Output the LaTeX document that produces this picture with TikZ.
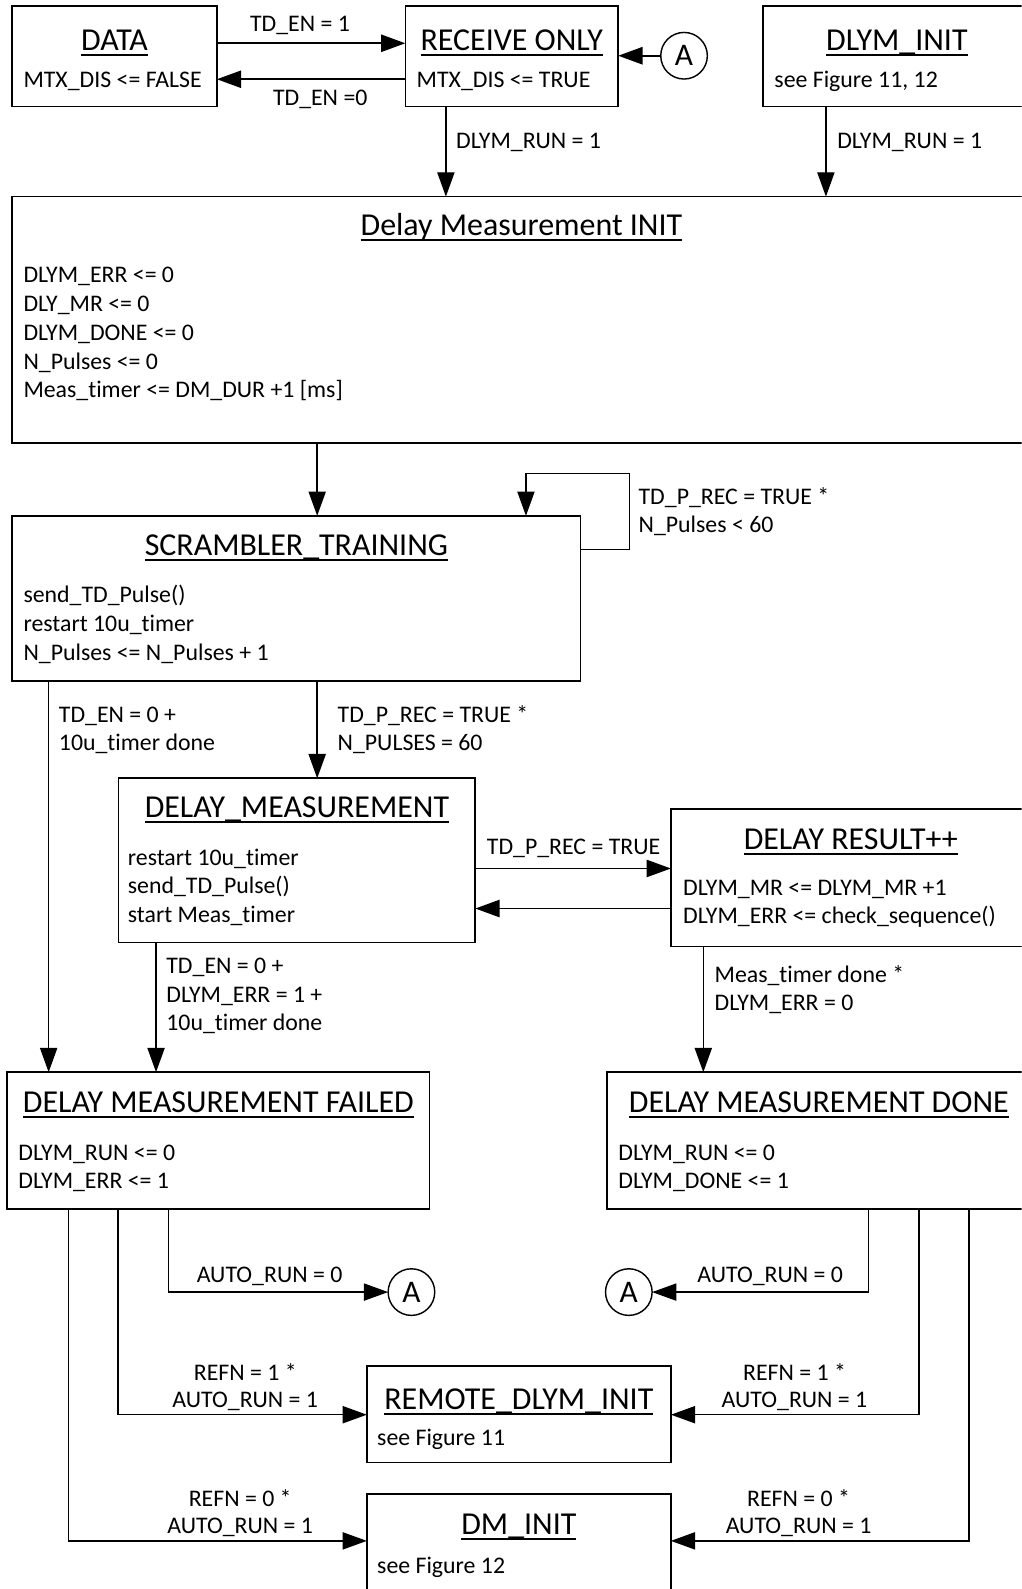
\documentclass[tikz,border=0pt]{standalone}
\usepackage{fontspec}
\setmainfont{Carlito}[Ligatures={NoCommon}]
\usetikzlibrary{arrows.meta,calc}

\newcommand\bodyfont{\fontsize{23.5}{28}\selectfont}
\newcommand\titlefont{\fontsize{31.5}{36}\selectfont}
\newcommand\circfont{\fontsize{31}{36}\selectfont}
\newsavebox\ulbox
\newcommand\ulined[1]{\sbox\ulbox{#1}\rlap{\rule[-0.17em]{\wd\ulbox}{0.065em}}\usebox\ulbox}

\tikzset{
  statebox/.style={draw=black, line width=1.6pt, anchor=north west, inner sep=0pt, outer sep=0pt},
  ttl/.style={font=\titlefont, anchor=base, inner sep=0pt, yshift=-10.1pt},
  txt/.style={font=\bodyfont, anchor=base west, inner sep=0pt, yshift=-7.6pt},
  ctxt/.style={font=\bodyfont, anchor=base, inner sep=0pt, yshift=-7.6pt},
  conn/.style={line width=1.4pt, -{Triangle[length=24pt,width=17pt]}},
  hconn/.style={line width=1.9pt, -{Triangle[length=24pt,width=17pt]}},
  lconn/.style={line width=1.5pt, -{Triangle[length=24pt,width=17pt]}},
  joint/.style={draw=black, circle, line width=1.4pt, minimum size=46pt, inner sep=0pt, outer sep=0pt, font=\circfont}
}

\begin{document}
\begin{tikzpicture}[x=1pt,y=-1pt]
\useasboundingbox (0,0) rectangle (1008,1568);
\clip (0,0) rectangle (1008,1568);

% ---------- states ----------
\node[statebox, minimum width=202pt, minimum height=99pt] (data) at (12,6) {};
\node[statebox, minimum width=210pt, minimum height=99pt] (recv) at (400,6) {};
\node[statebox, minimum width=264pt, minimum height=99pt] (dlyminit) at (753,6) {};
\node[statebox, minimum width=1005pt, minimum height=243pt] (dminit) at (12,194) {};
\node[statebox, minimum width=561pt, minimum height=163pt] (scr) at (12,509) {};
\node[statebox, minimum width=352pt, minimum height=162pt] (dm) at (117,768) {};
\node[statebox, minimum width=355pt, minimum height=136pt] (dr) at (662,798) {};
\node[statebox, minimum width=417pt, minimum height=135pt] (failed) at (7,1058) {};
\node[statebox, minimum width=418pt, minimum height=135pt] (done) at (599,1058) {};
\node[statebox, minimum width=300pt, minimum height=95pt] (remote) at (362,1348) {};
\node[statebox, minimum width=300pt, minimum height=100pt] (dmi) at (362,1474) {};

% ---------- titles ----------
\node[ttl] (data-t) at ($(data.north)+(0,34)$) {\ulined{DATA}};
\node[ttl] (recv-t) at ($(recv.north)+(0,34)$) {\ulined{RECEIVE ONLY}};
\node[ttl] (dlyminit-t) at ($(dlyminit.north)+(0,34)$) {\ulined{DLYM\_INIT}};
\node[ttl] (dminit-t) at ($(dminit.north)+(0,28)$) {\ulined{Delay Measurement INIT}};
\node[ttl] (scr-t) at ($(scr.north)+(0,29)$) {\ulined{SCRAMBLER\_TRAINING}};
\node[ttl] (dm-t) at ($(dm.north)+(0,29)$) {\ulined{DELAY\_MEASUREMENT}};
\node[ttl] (dr-t) at ($(dr.north)+(0,30.5)$) {\ulined{DELAY RESULT++}};
\node[ttl] (failed-t) at ($(failed.north)+(0,30)$) {\ulined{DELAY MEASUREMENT FAILED}};
\node[ttl] (done-t) at ($(done.north)+(0,30)$) {\ulined{DELAY MEASUREMENT DONE}};
\node[ttl] (remote-t) at ($(remote.north)+(0,33)$) {\ulined{REMOTE\_DLYM\_INIT}};
\node[ttl] (dmi-t) at ($(dmi.north)+(0,30)$) {\ulined{DM\_INIT}};

% ---------- state contents ----------
\node[txt] (data-b) at (23,78.4) {MTX\_DIS <= FALSE};
\node[txt] (recv-b) at (411,78.4) {MTX\_DIS <= TRUE};
\node[txt] (dlyminit-b) at (764,78.4) {see Figure 11, 12};

\node[txt] (dminit-b1) at (23,271) {DLYM\_ERR <= 0};
\node[txt] (dminit-b2) at (23,300) {DLY\_MR <= 0};
\node[txt] (dminit-b3) at (23,328) {DLYM\_DONE <= 0};
\node[txt] (dminit-b4) at (23,357) {N\_Pulses <= 0};
\node[txt] (dminit-b5) at (23,385) {Meas\_timer <= DM\_DUR +1 [ms]};

\node[txt] (scr-b1) at (23,587) {send\_TD\_Pulse()};
\node[txt] (scr-b2) at (23,615.5) {restart 10u\_timer};
\node[txt] (scr-b3) at (23,644) {N\_Pulses <= N\_Pulses + 1};

\node[txt] (dm-b1) at (126,846.5) {restart 10u\_timer};
\node[txt] (dm-b2) at (126,874.5) {send\_TD\_Pulse()};
\node[txt] (dm-b3) at (126,903) {start Meas\_timer};

\node[txt] (dr-b1) at (674,876) {DLYM\_MR <= DLYM\_MR +1};
\node[txt] (dr-b2) at (674,904) {DLYM\_ERR <= check\_sequence()};

\node[txt] (failed-b1) at (18,1137.5) {DLYM\_RUN <= 0};
\node[txt] (failed-b2) at (18,1165.5) {DLYM\_ERR <= 1};

\node[txt] (done-b1) at (610,1137.5) {DLYM\_RUN <= 0};
\node[txt] (done-b2) at (610,1165.5) {DLYM\_DONE <= 1};

\node[txt] (remote-b) at (372,1418.6) {see Figure 11};
\node[txt] (dmi-b) at (372,1545) {see Figure 12};

% ---------- connectors: top row ----------
\node[joint] (a1) at (675,55) {A};
\draw[hconn] (data.east |- 0,42.7) -- (recv.west |- 0,42.7);
\node[ctxt] (l-tden1) at (296,23.7) {TD\_EN = 1};
\draw[hconn] (recv.west |- 0,78.2) -- (data.east |- 0,78.2);
\node[ctxt] (l-tden0) at (316,96.2) {TD\_EN =0};
\draw[hconn] (a1) -- (recv.east |- a1);

\draw[conn] (recv.south -| 440,0) -- (dminit.north -| 440,0);
\node[txt] (l-run1) at (450,139) {DLYM\_RUN = 1};
\draw[conn] (dlyminit.south -| 815,0) -- (dminit.north -| 815,0);
\node[txt] (l-run2) at (826,139) {DLYM\_RUN = 1};

% ---------- init -> training ----------
\draw[conn] (dminit.south -| 313,0) -- (scr.north -| 313,0);
\coordinate (loop-a) at (621,542);
\coordinate (loop-b) at (621,467);
\coordinate (loop-c) at (519,467);
\draw[conn] (scr.east |- loop-a) -- (loop-a) -- (loop-b) -- (loop-c) -- (scr.north -| loop-c);
\node[txt] (l-loop1) at (630,490) {TD\_P\_REC = TRUE *};
\node[txt] (l-loop2) at (630,518) {N\_Pulses < 60};

% ---------- training -> measurement / failed ----------
\draw[conn] (scr.south -| 313,0) -- (dm.north -| 313,0);
\node[txt] (l-scr1) at (333,705) {TD\_P\_REC = TRUE *};
\node[txt] (l-scr2) at (333,733) {N\_PULSES = 60};
\draw[conn] (scr.south -| 48,0) -- (failed.north -| 48,0);
\node[txt] (l-scrf1) at (58,705) {TD\_EN = 0 +};
\node[txt] (l-scrf2) at (58,733) {10u\_timer done};

% ---------- measurement <-> result ----------
\draw[hconn] (dm.east |- 0,857) -- (dr.west |- 0,857);
\node[ctxt] (l-prec) at (566,836) {TD\_P\_REC = TRUE};
\draw[hconn] (dr.west |- 0,896.5) -- (dm.east |- 0,896.5);

\draw[conn] (dm.south -| 154,0) -- (failed.north -| 154,0);
\node[txt] (l-dmf1) at (164,953.4) {TD\_EN = 0 +};
\node[txt] (l-dmf2) at (164,981.4) {DLYM\_ERR = 1 +};
\node[txt] (l-dmf3) at (164,1009.3) {10u\_timer done};

\draw[conn] (dr.south -| 694,0) -- (done.north -| 694,0);
\node[txt] (l-drd1) at (705,961.7) {Meas\_timer done *};
\node[txt] (l-drd2) at (705,989.6) {DLYM\_ERR = 0};

% ---------- failed exits ----------
\node[joint] (a2) at (406,1275) {A};
\draw[lconn] (failed.south -| 166.5,0) |- (a2.west);
\node[ctxt] (l-fa) at (266,1258) {AUTO\_RUN = 0};
\draw[lconn] (failed.south -| 116.5,0) |- (remote.west |- 0,1396);
\node[ctxt] (l-fr1) at (242,1354.5) {REFN = 1 *};
\node[ctxt] (l-fr2) at (242,1381) {AUTO\_RUN = 1};
\draw[lconn] (failed.south -| 67.5,0) |- (dmi.west |- 0,1520.5);
\node[ctxt] (l-fd1) at (237,1479.4) {REFN = 0 *};
\node[ctxt] (l-fd2) at (237,1505.7) {AUTO\_RUN = 1};

% ---------- done exits ----------
\node[joint] (a3) at (620.5,1275) {A};
\draw[lconn] (done.south -| 857,0) |- (a3.east);
\node[ctxt] (l-da) at (760,1258) {AUTO\_RUN = 0};
\draw[lconn] (done.south -| 906.6,0) |- (remote.east |- 0,1396);
\node[ctxt] (l-dr1) at (784,1354.5) {REFN = 1 *};
\node[ctxt] (l-dr2) at (784,1381) {AUTO\_RUN = 1};
\draw[lconn] (done.south -| 956,0) |- (dmi.east |- 0,1520.5);
\node[ctxt] (l-dd1) at (788,1479.4) {REFN = 0 *};
\node[ctxt] (l-dd2) at (788,1505.7) {AUTO\_RUN = 1};
\end{tikzpicture}
\end{document}
